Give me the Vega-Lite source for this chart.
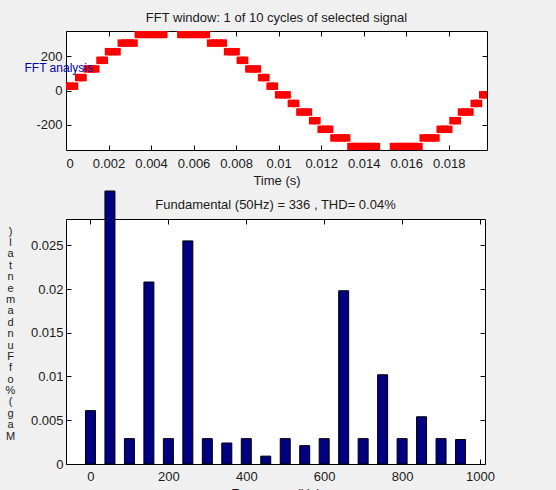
{
  "$schema": "https://vega.github.io/schema/vega-lite/v6.json",
  "background": "#f0f0f0",
  "padding": {"left": 4, "top": 11, "right": 66, "bottom": 0},
  "spacing": 2,
  "config": {
    "view": {"stroke": "black", "strokeWidth": 1, "fill": "white"},
    "font": "Liberation Sans",
    "axis": {
      "domain": false, "grid": false, "tickColor": "black", "tickSize": -5,
      "labelFont": "Liberation Sans", "labelFontSize": 13, "labelColor": "#1a1a1a",
      "titleFont": "Liberation Sans", "titleFontWeight": "normal", "titleFontSize": 13, "titleColor": "#1a1a1a"
    },
    "title": {"font": "Liberation Sans", "fontSize": 13, "fontWeight": "normal", "color": "#1a1a1a"}
  },
  "vconcat": [
    {
      "title": {"text": "FFT window: 1 of 10 cycles of selected signal", "offset": -2, "frame": "group"},
      "width": 421,
      "height": 119,
      "data": {"values": [
        {"t": 0.0000, "v": 25}, {"t": 0.0002, "v": 25}, {"t": 0.0004, "v": 25}, {"t": 0.0006, "v": 75}, {"t": 0.0008, "v": 75},
        {"t": 0.0010, "v": 125}, {"t": 0.0012, "v": 125}, {"t": 0.0014, "v": 125}, {"t": 0.0016, "v": 175}, {"t": 0.0018, "v": 175},
        {"t": 0.0020, "v": 225}, {"t": 0.0022, "v": 225}, {"t": 0.0024, "v": 225}, {"t": 0.0026, "v": 275}, {"t": 0.0028, "v": 275},
        {"t": 0.0030, "v": 275}, {"t": 0.0032, "v": 275}, {"t": 0.0034, "v": 325}, {"t": 0.0036, "v": 325}, {"t": 0.0038, "v": 325},
        {"t": 0.0040, "v": 325}, {"t": 0.0042, "v": 325}, {"t": 0.0044, "v": 325}, {"t": 0.0046, "v": 325}, {"t": 0.0048, "v": 375},
        {"t": 0.0050, "v": 375}, {"t": 0.0052, "v": 375}, {"t": 0.0054, "v": 325}, {"t": 0.0056, "v": 325}, {"t": 0.0058, "v": 325},
        {"t": 0.0060, "v": 325}, {"t": 0.0062, "v": 325}, {"t": 0.0064, "v": 325}, {"t": 0.0066, "v": 325}, {"t": 0.0068, "v": 275},
        {"t": 0.0070, "v": 275}, {"t": 0.0072, "v": 275}, {"t": 0.0074, "v": 275}, {"t": 0.0076, "v": 225}, {"t": 0.0078, "v": 225},
        {"t": 0.0080, "v": 225}, {"t": 0.0082, "v": 175}, {"t": 0.0084, "v": 175}, {"t": 0.0086, "v": 125}, {"t": 0.0088, "v": 125},
        {"t": 0.0090, "v": 125}, {"t": 0.0092, "v": 75}, {"t": 0.0094, "v": 75}, {"t": 0.0096, "v": 25}, {"t": 0.0098, "v": 25},
        {"t": 0.0100, "v": -25}, {"t": 0.0102, "v": -25}, {"t": 0.0104, "v": -25}, {"t": 0.0106, "v": -75}, {"t": 0.0108, "v": -75},
        {"t": 0.0110, "v": -125}, {"t": 0.0112, "v": -125}, {"t": 0.0114, "v": -125}, {"t": 0.0116, "v": -175}, {"t": 0.0118, "v": -175},
        {"t": 0.0120, "v": -225}, {"t": 0.0122, "v": -225}, {"t": 0.0124, "v": -225}, {"t": 0.0126, "v": -275}, {"t": 0.0128, "v": -275},
        {"t": 0.0130, "v": -275}, {"t": 0.0132, "v": -275}, {"t": 0.0134, "v": -325}, {"t": 0.0136, "v": -325}, {"t": 0.0138, "v": -325},
        {"t": 0.0140, "v": -325}, {"t": 0.0142, "v": -325}, {"t": 0.0144, "v": -325}, {"t": 0.0146, "v": -325}, {"t": 0.0148, "v": -375},
        {"t": 0.0150, "v": -375}, {"t": 0.0152, "v": -375}, {"t": 0.0154, "v": -325}, {"t": 0.0156, "v": -325}, {"t": 0.0158, "v": -325},
        {"t": 0.0160, "v": -325}, {"t": 0.0162, "v": -325}, {"t": 0.0164, "v": -325}, {"t": 0.0166, "v": -325}, {"t": 0.0168, "v": -275},
        {"t": 0.0170, "v": -275}, {"t": 0.0172, "v": -275}, {"t": 0.0174, "v": -275}, {"t": 0.0176, "v": -225}, {"t": 0.0178, "v": -225},
        {"t": 0.0180, "v": -225}, {"t": 0.0182, "v": -175}, {"t": 0.0184, "v": -175}, {"t": 0.0186, "v": -125}, {"t": 0.0188, "v": -125},
        {"t": 0.0190, "v": -125}, {"t": 0.0192, "v": -75}, {"t": 0.0194, "v": -75}, {"t": 0.0196, "v": -25}, {"t": 0.0198, "v": -25}
      ]},
      "layer": [
        {
          "mark": {"type": "point", "shape": "square", "filled": true, "size": 56, "color": "#ff0000", "opacity": 1, "clip": true},
          "encoding": {
            "x": {"field": "t", "type": "quantitative",
                  "scale": {"domain": [0, 0.0198], "nice": false, "zero": false},
                  "axis": {"values": [0, 0.002, 0.004, 0.006, 0.008, 0.01, 0.012, 0.014, 0.016, 0.018], "format": ".3~f",
                           "title": "Time (s)", "labelPadding": 12, "titlePadding": 4}},
            "y": {"field": "v", "type": "quantitative",
                  "scale": {"domain": [-345, 345], "nice": false, "zero": false},
                  "axis": {"values": [-200, 0, 200], "labelExpr": "toString(datum.value)", "labelPadding": 9, "zindex": 1,
                           "title": "FFT analysis", "titleAngle": 0, "titleAlign": "left", "titleBaseline": "middle",
                           "titleX": -42, "titleY": 36, "titleColor": "#0000a8", "titleFontSize": 12}}
          }
        },
        {
          "mark": {"type": "point", "opacity": 0},
          "encoding": {
            "x": {"field": "t", "type": "quantitative",
                  "axis": {"orient": "top", "labels": false, "title": null, "values": [0, 0.002, 0.004, 0.006, 0.008, 0.01, 0.012, 0.014, 0.016, 0.018]}},
            "y": {"field": "v", "type": "quantitative",
                  "axis": {"orient": "right", "labels": false, "title": null, "values": [-200, 0, 200]}}
          }
        }
      ],
      "resolve": {"axis": {"x": "independent", "y": "independent"}}
    },
    {
      "title": {"text": "Fundamental (50Hz) = 336 , THD= 0.04%", "offset": -21, "frame": "group"},
      "width": 419,
      "height": 245,
      "data": {"values": [
        {"f": 0, "mag": 0.0061}, {"f": 50, "mag": 0.0312}, {"f": 100, "mag": 0.0029}, {"f": 150, "mag": 0.0208},
        {"f": 200, "mag": 0.0029}, {"f": 250, "mag": 0.0255}, {"f": 300, "mag": 0.0029}, {"f": 350, "mag": 0.0024},
        {"f": 400, "mag": 0.0029}, {"f": 450, "mag": 0.0009}, {"f": 500, "mag": 0.0029}, {"f": 550, "mag": 0.0021},
        {"f": 600, "mag": 0.0029}, {"f": 650, "mag": 0.0198}, {"f": 700, "mag": 0.0029}, {"f": 750, "mag": 0.0102},
        {"f": 800, "mag": 0.0029}, {"f": 850, "mag": 0.0054}, {"f": 900, "mag": 0.0029}, {"f": 950, "mag": 0.0028}
      ]},
      "layer": [
        {
          "mark": {"type": "bar", "width": 10, "fill": "#000080", "stroke": "black", "strokeWidth": 1, "clip": false},
          "encoding": {
            "x": {"field": "f", "type": "quantitative",
                  "scale": {"domain": [-50, 1000], "nice": false, "zero": false},
                  "axis": {"values": [0, 200, 400, 600, 800, 1000], "format": "d", "labelPadding": 11, "title": "Frequency (Hz)", "titlePadding": 4}},
            "y": {"field": "mag", "type": "quantitative",
                  "scale": {"domain": [0, 0.028], "nice": false},
                  "axis": {"values": [0, 0.005, 0.01, 0.015, 0.02, 0.025], "format": ".3~f", "labelPadding": 8,
                           "title": [")", "l", "a", "t", "n", "e", "m", "a", "d", "n", "u", "F", "f", "o", "%", "(", "g", "a", "M"],
                           "titleAngle": 0, "titleAlign": "center", "titleBaseline": "top", "titleFontSize": 11,
                           "titleLineHeight": 11.4, "titleX": -56, "titleY": 6}}
          }
        },
        {
          "mark": {"type": "bar", "opacity": 0},
          "encoding": {
            "x": {"field": "f", "type": "quantitative",
                  "axis": {"orient": "top", "labels": false, "title": null, "values": [0, 200, 400, 600, 800, 1000]}},
            "y": {"field": "mag", "type": "quantitative",
                  "axis": {"orient": "right", "labels": false, "title": null, "values": [0, 0.005, 0.01, 0.015, 0.02, 0.025]}}
          }
        }
      ],
      "resolve": {"axis": {"x": "independent", "y": "independent"}}
    }
  ]
}
